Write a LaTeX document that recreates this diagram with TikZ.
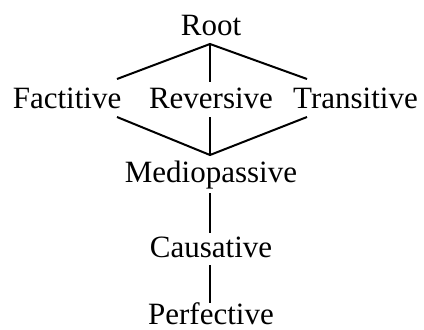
\documentclass[tikz,border=0pt]{standalone}
\usepackage{fontspec}
\setmainfont{Liberation Serif}
\begin{document}
\begin{tikzpicture}[x=1pt,y=-1pt,
  lbl/.style={anchor=base,inner sep=0pt,font=\fontsize{31}{37}\selectfont},
  link/.style={line width=2pt}]
\useasboundingbox (0,0) rectangle (424,330);
\node[lbl] (root) at (211,35) {Root};
\node[lbl] (fact) at (67,108) {Factitive};
\node[lbl] (rev) at (211,108) {Reversive};
\node[lbl] (trans) at (355.5,108) {Transitive};
\node[lbl] (medio) at (211,182) {Mediopassive};
\node[lbl] (caus) at (211,257) {Causative};
\node[lbl] (perf) at (211,324.5) {Perfective};
\coordinate (rootB) at (210,44);
\coordinate (factT) at (117,79);
\coordinate (revT) at (210,82);
\coordinate (transT) at (307,79);
\coordinate (factB) at (117,117);
\coordinate (revB) at (210,117);
\coordinate (transB) at (307,117);
\coordinate (medioT) at (210,155);
\coordinate (medioB) at (210,193);
\coordinate (causT) at (210,233);
\coordinate (causB) at (210,265);
\coordinate (perfT) at (210,303);
\draw[link] (factT) -- (rootB) -- (transT);
\draw[link] (rootB) -- (revT);
\draw[link] (factB) -- (medioT) -- (transB);
\draw[link] (revB) -- (medioT);
\draw[link] (medioB) -- (causT);
\draw[link] (causB) -- (perfT);
\end{tikzpicture}
\end{document}
